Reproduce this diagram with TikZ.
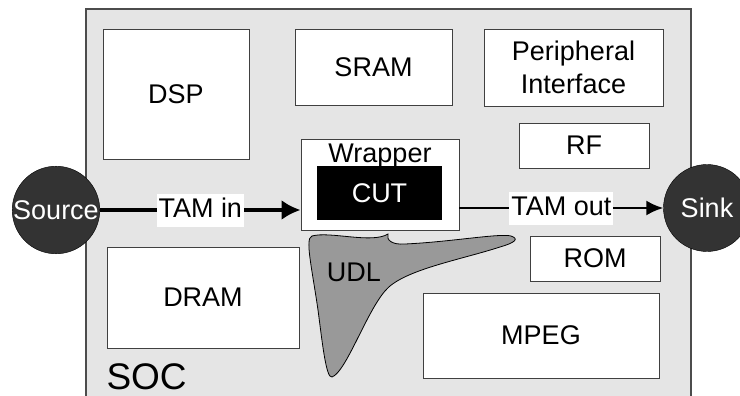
\documentclass[tikz,border=0pt]{standalone}
\usepackage{fontspec}
\setmainfont{Liberation Sans}
\usetikzlibrary{arrows.meta}

\definecolor{socgray}{gray}{0.9}
\definecolor{udlgray}{gray}{0.6}
\definecolor{portgray}{gray}{0.2}

\begin{document}
\begin{tikzpicture}[x=1pt,y=-1pt,
  every node/.style={font=\fontsize{27}{33}\selectfont},
  block/.style={draw=black!75,line width=0.9pt,fill=white,inner sep=0pt},
  port/.style={circle,draw=black,fill=portgray,text=white,inner sep=0pt,minimum size=87},
  tamlabel/.style={fill=white,inner xsep=2pt,inner ysep=3pt,text height=21pt,text depth=6pt}]

\path[use as bounding box] (0,0) rectangle (740,396);
\clip (0,0) rectangle (740,396);

%soc
\draw[draw=black!70,line width=1.2pt,fill=socgray] (86,9) rectangle (691,410);
\node[anchor=base west,font=\fontsize{37}{40}\selectfont] (soc) at (103,389) {SOC};

%cores
\node[block,minimum width=146,minimum height=130] (dsp) at (176,94) {DSP};
\node[block,minimum width=157,minimum height=76] (sram) at (373.5,67) {SRAM};
\node[block,minimum width=179,minimum height=77,align=center] (periph) at (573.5,67.5) {Peripheral\\Interface};
\node[block,minimum width=130,minimum height=45] (rf) at (584,145.5) {RF};
\node[block,minimum width=130,minimum height=45] (rom) at (595,258.5) {ROM};
\node[block,minimum width=192,minimum height=101] (dram) at (203,297.5) {DRAM};
\node[block,minimum width=236,minimum height=85] (mpeg) at (541,335.5) {MPEG};

%wrapper
\node[block,minimum width=158,minimum height=91] (wrapper) at (380,184.5) {};
\node[anchor=base] (wraplabel) at (380,162) {Wrapper};
\node[fill=black,text=white,inner sep=0pt,minimum width=125,minimum height=54] (cut) at (379.5,193) {CUT};

%udl
\draw[draw=black,line width=0.8pt,fill=udlgray] (312,236)
  .. controls (330,231) and (372,244) .. (388,234)
  .. controls (386,240) and (392,245) .. (405,244)
  .. controls (450,242) and (500,233) .. (511,236)
  .. controls (520,239) and (514,243) .. (500,247)
  .. controls (460,260) and (402,270) .. (385,291)
  .. controls (366,313) and (346,372) .. (332,377)
  .. controls (326,379) and (322,340) .. (318,310)
  .. controls (314,282) and (308,252) .. (309,243)
  .. controls (309,239) and (310,237) .. (312,236) -- cycle;
\node (udl) at (354,272) {UDL};

%tam
\node[port] (source) at (56,210) {Source};
\node[port] (sink) at (707,208) {Sink};

\draw[line width=3.5pt,-{Latex[length=19pt,width=20pt]}] (source.east) -- (source.east -| wrapper.west)
  node[midway,tamlabel] (tamin) {TAM in};
\draw[line width=2.2pt,-{Latex[length=17pt,width=15pt]}] (sink.west -| wrapper.east) -- (sink.west)
  node[midway,tamlabel] (tamout) {TAM out};

\end{tikzpicture}
\end{document}
